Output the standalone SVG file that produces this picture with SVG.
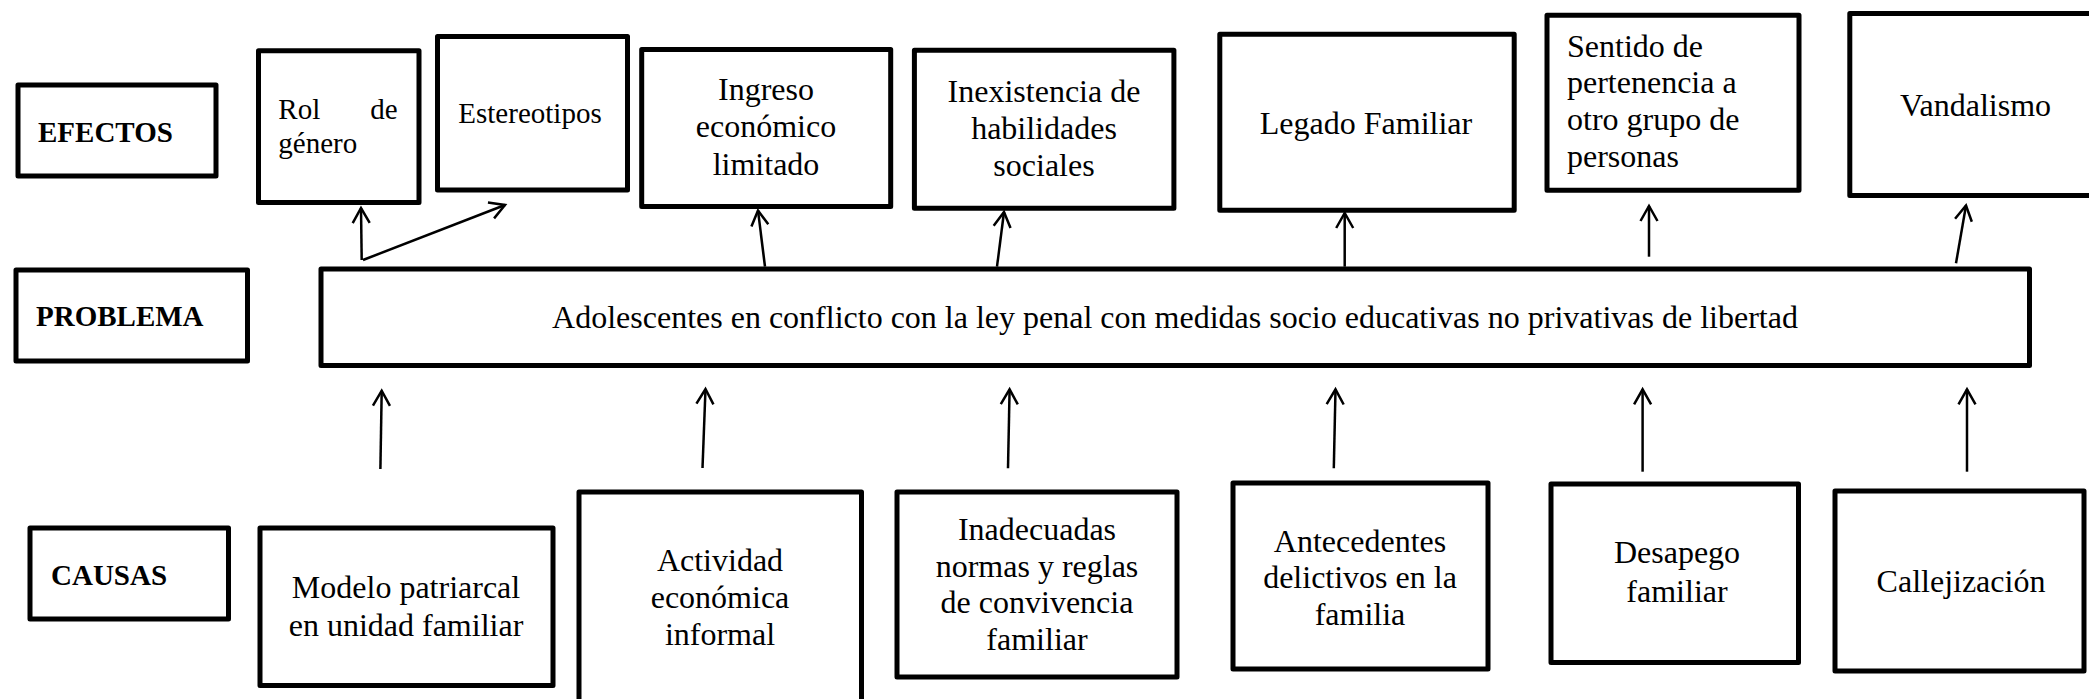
<svg xmlns="http://www.w3.org/2000/svg" width="2089" height="699" viewBox="0 0 2089 699">
<style>
  .box { fill: #ffffff; stroke: #000000; stroke-width: 5; stroke-linejoin: round; }
  .t { font-family: "Liberation Serif", "Times New Roman", serif; font-size: 32px; fill: #000000; }
  .s29 { font-size: 29px; }
  .b { font-family: "Liberation Serif", "Times New Roman", serif; font-size: 29px; font-weight: bold; fill: #000000; }
  .c { text-anchor: middle; }
  .conn line { stroke: #000000; stroke-width: 2.5; fill: none; marker-end: url(#arr); }
</style>
<defs>
  <marker id="arr" markerUnits="userSpaceOnUse" markerWidth="24" markerHeight="24" viewBox="-18 -12 22 24" refX="0" refY="0" orient="auto">
    <path d="M-15,-8.5 L0,0 L-15,8.5" fill="none" stroke="#000000" stroke-width="2.5" stroke-linejoin="miter"/>
  </marker>
</defs>
<rect x="0" y="0" width="2089" height="699" fill="#ffffff"/>

<g id="label-efectos">
  <rect class="box" x="18" y="85" width="198" height="91"/>
  <text class="b" x="38" y="142">EFECTOS</text>
</g>
<g id="label-problema">
  <rect class="box" x="16" y="270" width="231.5" height="91"/>
  <text class="b" x="36" y="326">PROBLEMA</text>
</g>
<g id="label-causas">
  <rect class="box" x="30" y="528" width="198.5" height="91"/>
  <text class="b" x="51" y="585">CAUSAS</text>
</g>

<g id="efecto-rol">
  <rect class="box" x="258.5" y="50.8" width="160.5" height="151.7"/>
  <text class="t s29" x="278.3" y="119.3">Rol</text>
  <text class="t s29" x="397.7" y="119.3" text-anchor="end">de</text>
  <text class="t s29" x="278.3" y="153.3">género</text>
</g>
<g id="efecto-estereotipos">
  <rect class="box" x="437.5" y="36.5" width="190" height="153.5"/>
  <text class="t s29 c" x="530" y="123.3">Estereotipos</text>
</g>
<g id="efecto-ingreso">
  <rect class="box" x="641.7" y="49.5" width="249" height="157"/>
  <text class="t c" x="766" y="100">Ingreso</text>
  <text class="t c" x="766" y="137">económico</text>
  <text class="t c" x="766" y="175">limitado</text>
</g>
<g id="efecto-inexistencia">
  <rect class="box" x="914.4" y="50.2" width="259.5" height="158"/>
  <text class="t c" x="1044" y="101.7">Inexistencia de</text>
  <text class="t c" x="1044" y="138.5">habilidades</text>
  <text class="t c" x="1044" y="175.7">sociales</text>
</g>
<g id="efecto-legado">
  <rect class="box" x="1219.8" y="34.2" width="294.4" height="176"/>
  <text class="t c" x="1366" y="134.3">Legado Familiar</text>
</g>
<g id="efecto-sentido">
  <rect class="box" x="1547" y="15.2" width="252" height="175"/>
  <text class="t" x="1567" y="56.7">Sentido de</text>
  <text class="t" x="1567" y="93.3">pertenencia a</text>
  <text class="t" x="1567" y="130">otro grupo de</text>
  <text class="t" x="1567" y="166.7">personas</text>
</g>
<g id="efecto-vandalismo">
  <rect class="box" x="1849.8" y="13.5" width="260" height="182"/>
  <text class="t" x="1900" y="116">Vandalismo</text>
</g>

<g id="problema">
  <rect class="box" x="321" y="269" width="1708.5" height="96.5"/>
  <text class="t c" x="1175" y="328">Adolescentes en conflicto con la ley penal con medidas socio educativas no privativas de libertad</text>
</g>

<g id="causa-modelo">
  <rect class="box" x="260" y="528" width="293" height="157.5"/>
  <text class="t c" x="406" y="598.3">Modelo patriarcal</text>
  <text class="t c" x="406" y="636">en unidad familiar</text>
</g>
<g id="causa-actividad">
  <rect class="box" x="579" y="492" width="282.5" height="230"/>
  <text class="t c" x="720" y="570.7">Actividad</text>
  <text class="t c" x="720" y="608.3">económica</text>
  <text class="t c" x="720" y="645">informal</text>
</g>
<g id="causa-inadecuadas">
  <rect class="box" x="897" y="492" width="280" height="185"/>
  <text class="t c" x="1037" y="540">Inadecuadas</text>
  <text class="t c" x="1037" y="576.7">normas y reglas</text>
  <text class="t c" x="1037" y="613.3">de convivencia</text>
  <text class="t c" x="1037" y="650">familiar</text>
</g>
<g id="causa-antecedentes">
  <rect class="box" x="1233" y="483" width="255" height="186"/>
  <text class="t c" x="1360" y="551.7">Antecedentes</text>
  <text class="t c" x="1360" y="587.7">delictivos en la</text>
  <text class="t c" x="1360" y="625">familia</text>
</g>
<g id="causa-desapego">
  <rect class="box" x="1551" y="484" width="247.5" height="178.5"/>
  <text class="t c" x="1677" y="563.3">Desapego</text>
  <text class="t c" x="1677" y="601.7">familiar</text>
</g>
<g id="causa-callejizacion">
  <rect class="box" x="1835" y="491" width="249" height="180"/>
  <text class="t c" x="1961" y="591.7">Callejización</text>
</g>

<g id="connectors" class="conn">
  <line x1="361.7" y1="260" x2="361" y2="208"/>
  <line x1="363" y1="260" x2="505" y2="205"/>
  <line x1="765" y1="266.7" x2="758" y2="210.5"/>
  <line x1="997" y1="266.7" x2="1004" y2="212"/>
  <line x1="1344.7" y1="266.7" x2="1344.7" y2="213"/>
  <line x1="1649" y1="256.7" x2="1649" y2="206"/>
  <line x1="1956" y1="263.3" x2="1966" y2="205.5"/>
  <line x1="380.4" y1="469" x2="381.7" y2="390.7"/>
  <line x1="702.5" y1="468" x2="705.5" y2="389"/>
  <line x1="1008" y1="468.3" x2="1009.6" y2="389.3"/>
  <line x1="1333.8" y1="468.3" x2="1335.5" y2="389.3"/>
  <line x1="1642.6" y1="471.7" x2="1642.6" y2="389.3"/>
  <line x1="1967" y1="471.7" x2="1967" y2="389.3"/>
</g>
</svg>
